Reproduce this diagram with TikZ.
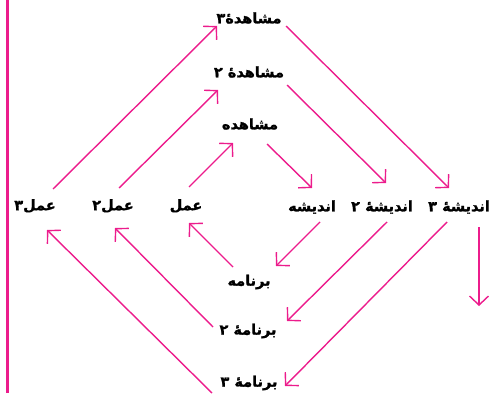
\documentclass[tikz,border=0pt]{standalone}
\usepackage{fontspec}
\newfontfamily\farsi[Script=Arabic,BoldFont={DejaVu Sans Bold},BoldFeatures={FakeBold=1.2}]{DejaVu Sans}
\TeXXeTstate=1
\usetikzlibrary{calc,arrows.meta}
\definecolor{rosado}{HTML}{EC1C8C}

\begin{document}
\begin{tikzpicture}[x=1pt,y=-1pt,
  etiqueta/.style={font=\farsi\bfseries\fontsize{14.5}{16}\selectfont,inner sep=1pt},
  flecha/.style={draw=rosado,line width=1.4pt,-{Straight Barb[length=9pt,width=19pt]}}]

  \useasboundingbox (0,0) rectangle (494,393);

  % linea lateral
  \draw[rosado,line width=2.2pt] (7.5,0) -- (7.5,393);

  % mosh = observacion, and = reflexion, bar = plan, amal = accion
  \node[etiqueta] (mosh3) at (249,18) {\beginR مشاهدهٔ۳\endR};
  \node[etiqueta] (mosh2) at (249,72) {\beginR مشاهدهٔ ۲\endR};
  \node[etiqueta] (mosh) at (250,124) {\beginR مشاهده\endR};

  \node[etiqueta] (amal3) at (35,206) {\beginR عمل۳\endR};
  \node[etiqueta] (amal2) at (113,206) {\beginR عمل۲\endR};
  \node[etiqueta] (amal) at (186,206) {\beginR عمل\endR};

  \node[etiqueta] (and) at (312,207) {\beginR اندیشه\endR};
  \node[etiqueta] (and2) at (382,207) {\beginR اندیشهٔ ۲\endR};
  \node[etiqueta] (and3) at (459,207) {\beginR اندیشهٔ ۳\endR};

  \node[etiqueta] (bar) at (249,282) {\beginR برنامه\endR};
  \node[etiqueta] (bar2) at (248,331) {\beginR برنامهٔ ۲\endR};
  \node[etiqueta] (bar3) at (249,383) {\beginR برنامهٔ ۳\endR};

  \coordinate (fin) at (479,306);

  % ciclo 1
  \draw[flecha] ($(amal)+(3,-19)$) -- ($(mosh)+(-17,19)$);
  \draw[flecha] ($(mosh)+(17,20)$) -- ($(and)+(0,-19)$);
  \draw[flecha] ($(and)+(8,15)$) -- ($(bar)+(27,-16)$);
  \draw[flecha] ($(bar)+(-16,-15)$) -- ($(amal)+(3,17)$);

  % ciclo 2
  \draw[flecha] ($(amal2)+(6,-18)$) -- ($(mosh2)+(-31,18)$);
  \draw[flecha] ($(mosh2)+(38,13)$) -- ($(and2)+(4,-24)$);
  \draw[flecha] ($(and2)+(5,15)$) -- ($(bar2)+(39,-10)$);
  \draw[flecha] ($(bar2)+(-35,-4)$) -- ($(amal2)+(2,22)$);

  % ciclo 3
  \draw[flecha] ($(amal3)+(18,-17)$) -- ($(mosh3)+(-32,8)$);
  \draw[flecha] ($(mosh3)+(37,8)$) -- ($(and3)+(-10,-19)$);
  \draw[flecha] ($(and3)+(-12,15)$) -- ($(bar3)+(36,3)$);
  \draw[flecha] ($(bar3)+(-37,10)$) -- ($(amal3)+(12,24)$);

  \draw[flecha] ($(and3)+(20,20)$) -- (fin);

\end{tikzpicture}
\end{document}
